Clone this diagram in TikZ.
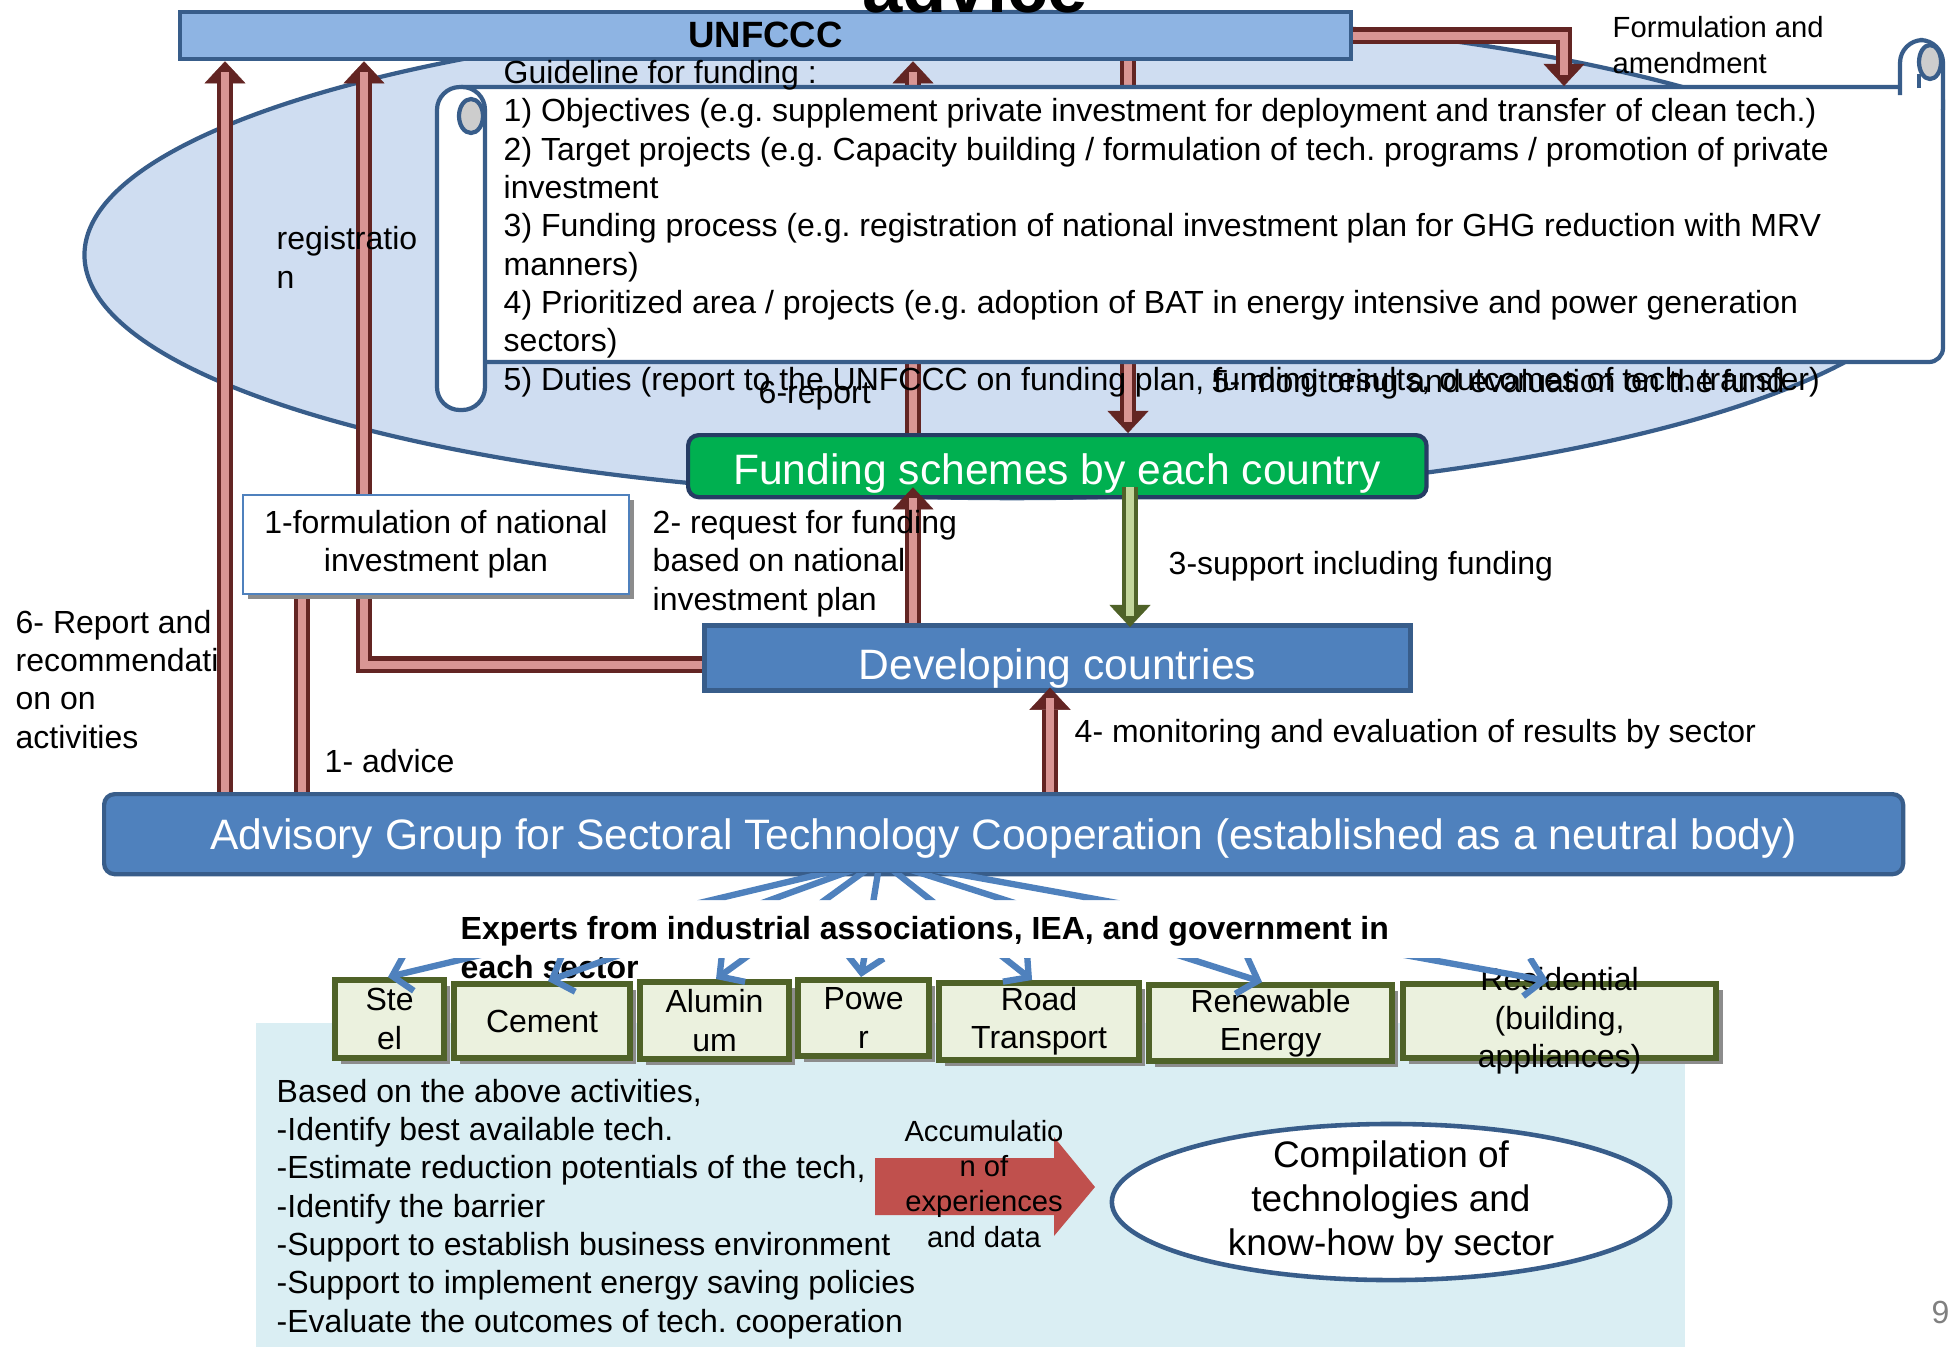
\documentclass[tikz,border=0pt]{standalone}
\usepackage{fontspec}
\setmainfont{Liberation Sans}
\usetikzlibrary{arrows.meta, positioning, shapes.geometric, shadows}
\frenchspacing

\definecolor{unfcccblue}{RGB}{142,180,227}
\definecolor{edgeblue}{RGB}{56,93,138}
\definecolor{boxblue}{RGB}{79,129,189}
\definecolor{ovalfill}{RGB}{207,221,241}
\definecolor{fundgreen}{RGB}{0,176,80}
\definecolor{fundedge}{RGB}{38,60,100}
\definecolor{arrowdark}{RGB}{99,37,35}
\definecolor{arrowpink}{RGB}{217,150,148}
\definecolor{olivedark}{RGB}{79,98,40}
\definecolor{olivelight}{RGB}{195,214,155}
\definecolor{sectorfill}{RGB}{235,241,222}
\definecolor{lowerbg}{RGB}{218,238,243}
\definecolor{blockred}{RGB}{192,80,77}
\definecolor{curlgray}{RGB}{205,205,205}

\tikzset{txt/.style={font=\fontsize{9.1}{10.9}\selectfont, inner sep=0pt, align=left}}
\tikzset{smalltxt/.style={font=\fontsize{8.3}{10}\selectfont, inner sep=0pt, align=center}}
\tikzset{bigtxt/.style={font=\fontsize{12.1}{14.5}\selectfont, text=white, text depth=0pt}}
\tikzset{bluebox/.style={draw=edgeblue, line width=1.2pt, fill=boxblue, inner sep=0pt, anchor=north west}}
\tikzset{sector/.style={
            draw=olivedark, line width=1.7pt, fill=sectorfill, anchor=north west, inner sep=0pt,
            drop shadow={shadow xshift=1.8pt, shadow yshift=-1.8pt, fill=black!45, opacity=1}
        }}
\tikzset{duct/.style 2 args={
            draw=#1, line width=4.8pt,
            -{Triangle[width=11.7pt, length=6.3pt, line width=0.1pt]},
            postaction={draw=#2, line width=2.3pt, -, shorten >=3pt}
        }}
\tikzset{redar/.style={duct={arrowdark}{arrowpink}}}
\tikzset{greenar/.style={duct={olivedark}{olivelight}}}
\tikzset{fanar/.style={draw=boxblue, line width=1.8pt, -{Straight Barb[length=5pt, width=11pt]}}}

\begin{document}
\begin{tikzpicture}[x=0.01cm, y=-0.01cm]
    \useasboundingbox (0,0) rectangle (1948,1347);

    % lower panel
    \fill[lowerbg] (256,1023) rectangle (1685,1347);

    % oval behind the guideline
    \node(guideoval)[ellipse, draw=edgeblue, line width=1.2pt, fill=ovalfill, inner sep=0pt,
        minimum width=18.54cm, minimum height=4.86cm] at (1012,255) {};

    % main boxes
    \node(unfccc)[bluebox, fill=unfcccblue, minimum width=11.70cm, minimum height=0.47cm,
        font=\fontsize{10.4}{12.5}\selectfont\bfseries, text height=6.5pt, text depth=0pt] at (178,10) {UNFCCC};
    \node(fund)[bluebox, draw=fundedge, fill=fundgreen, rounded corners=3pt, minimum width=7.38cm,
        minimum height=0.62cm, bigtxt, text height=10.2pt] at (686,433) {Funding schemes by each country};
    \node(devel)[bluebox, line width=1.3pt, minimum width=7.06cm, minimum height=0.65cm,
        bigtxt, text height=12.2pt] at (702,623) {Developing countries};
    \node(advisory)[bluebox, rounded corners=3pt, minimum width=17.98cm, minimum height=0.80cm,
        bigtxt, text height=8.5pt] at (102,792) {Advisory Group for Sectoral Technology Cooperation (established as a neutral body)};

    % columns of the arrows
    \coordinate (colA) at (225,0);
    \coordinate (colB) at (364,0);
    \coordinate (colC) at (302,0);
    \coordinate (colR) at (913,0);
    \coordinate (colM) at (1128,0);
    \coordinate (colG) at (1130,0);
    \coordinate (colS) at (1050,0);

    % arrows behind the scroll
    \draw[redar] (fund.north -| colR) -- (unfccc.south -| colR);
    \draw[redar] (unfccc.south -| colM) -- (fund.north -| colM);

    % scroll
    \draw[edgeblue, line width=1.2pt, fill=white, rounded corners=4pt] (461,87) -- (1943,87) -- (1943,362) -- (485,362);
    \draw[edgeblue, line width=1.2pt, fill=white, rounded corners=6.5pt] (437,87) rectangle (485,410);
    \draw[edgeblue, line width=1.2pt, fill=curlgray] (471,116) ellipse [x radius=12, y radius=17];
    \draw[edgeblue, line width=1.2pt, fill=white, rounded corners=6.5pt] (1900,95) -- (1900,40) -- (1943,40) -- (1943,110);
    \draw[edgeblue, line width=1.2pt, fill=curlgray] (1930,62) ellipse [x radius=11, y radius=17];
    \draw[edgeblue, line width=1.2pt] (1919,88) -- (1919,74);

    % base of a text block = its last line
    \node(guide)[txt, anchor=base west] at (503,390) {Guideline for funding :\\
        1) Objectives (e.g. supplement private investment for deployment and transfer of clean tech.)\\
        2) Target projects (e.g. Capacity building / formulation of tech. programs / promotion of private\\
        investment\\
        3) Funding process (e.g. registration of national investment plan for GHG reduction with MRV\\
        manners)\\
        4) Prioritized area / projects (e.g. adoption of BAT in energy intensive and power generation\\
        sectors)\\
        5) Duties (report to the UNFCCC on funding plan, funding results, outcomes of tech. transfer)};

    % left side
    \node(reportlbl)[txt, anchor=base west] at (15,748) {6- Report and\\recommendati\\on on\\activities};
    \draw[redar] (advisory.north -| colA) -- (unfccc.south -| colA);
    \draw[redar] ([yshift=-0.07cm]devel.west) -| (unfccc.south -| colB);
    \coordinate (formc) at (302,560);
    \draw[redar] (advisory.north -| colC) -- (formc);

    \node(formbox)[draw=boxblue, line width=0.5pt, fill=white, anchor=north west, minimum width=3.86cm,
        minimum height=0.99cm, txt, align=center,
        drop shadow={shadow xshift=1.4pt, shadow yshift=-1.4pt, fill=black!45, opacity=1}]
        at (242,494) {1-formulation of national\\investment plan};

    % arrows between the boxes
    \draw[redar] (devel.north -| colR) -- ([yshift=0.12cm]fund.south -| colR);
    \draw[greenar] ([yshift=0.12cm]fund.south -| colG) -- ([yshift=-0.04cm]devel.north -| colG);
    \draw[redar] (advisory.north -| colS) -- ([yshift=0.05cm]devel.south -| colS);
    \coordinate (scrolltop) at (1564,86);
    \draw[redar] (unfccc.east) -| (scrolltop);

    % labels
    \node(amendlbl)[smalltxt, align=left, anchor=base west] at (1612,73) {Formulation and\\amendment};
    \node(reglbl)[txt, anchor=base west] at (276,288) {registratio\\n};
    \node(rep6lbl)[txt, anchor=base west] at (758,403) {6-report};
    \node(mon5lbl)[txt, anchor=base west] at (1211,392) {5- monitoring and evaluation on the fund};
    \node(requestlbl)[txt, anchor=base west] at (652,610) {2- request for funding\\based on national\\investment plan};
    \node(supportlbl)[txt, anchor=base west] at (1168,574) {3-support including funding};
    \node(mon4lbl)[txt, anchor=base west] at (1074,742) {4- monitoring and evaluation of results by sector};
    \node(advicelbl)[txt, anchor=base west] at (324,772) {1- advice};

    % sectors
    \node(steel)[sector, minimum width=1.09cm, minimum height=0.78cm, label={[txt, align=center]center:Ste\\el}] at (332,977) {};
    \node(cement)[sector, minimum width=1.76cm, minimum height=0.74cm, label={[txt]center:Cement}] at (451,981) {};
    \node(alum)[sector, minimum width=1.49cm, minimum height=0.77cm, label={[txt, align=center]center:Alumin\\um}] at (637,979) {};
    \node(power)[sector, minimum width=1.31cm, minimum height=0.76cm, label={[txt, align=center]center:Powe\\r}] at (795,977) {};
    \node(road)[sector, minimum width=2.00cm, minimum height=0.77cm, label={[txt, align=center]center:Road\\Transport}] at (936,980) {};
    \node(renew)[sector, minimum width=2.43cm, minimum height=0.76cm, label={[txt, align=center]center:Renewable\\Energy}] at (1146,982) {};
    \node(resid)[sector, minimum width=3.13cm, minimum height=0.74cm, label={[txt, align=center]center:Residential\\(building,\\appliances)}] at (1400,981) {};

    \node(experts)[txt, font=\fontsize{9.1}{10.9}\selectfont\bfseries, anchor=base west] at (460,978)
        {Experts from industrial associations, IEA, and government in\\each sector};

    % fan of experts
    \coordinate (fan) at (880,860);
    \begin{scope}
        \clip (0,873) rectangle (1948,900) (0,958) rectangle (1948,1347);
        \foreach \sec/\dx in {steel/0.56, cement/0.97, alum/0.79, power/0.66, road/0.96, renew/1.16, resid/1.48}
            \draw[fanar] (fan) -- ([xshift=\dx cm]\sec.north west);
    \end{scope}

    % tasks
    \node(tasks)[txt, anchor=base west] at (276,1332) {Based on the above activities,\\
        -Identify best available tech.\\
        -Estimate reduction potentials of the tech,\\
        -Identify the barrier\\
        -Support to establish business environment\\
        -Support to implement energy saving policies\\
        -Evaluate the outcomes of tech. cooperation};

    % accumulation arrow
    \fill[blockred] (875,1158) -- (1054,1158) -- (1054,1137) -- (1095,1187) -- (1054,1236) -- (1054,1215) -- (875,1215) -- cycle;
    \node(accum)[smalltxt, anchor=base] at (984,1247) {Accumulatio\\n of\\experiences\\and data};

    % compilation
    \node(compile)[ellipse, draw=edgeblue, line width=1.3pt, fill=white, inner sep=0pt,
        minimum width=5.58cm, minimum height=1.56cm,
        label={[font=\fontsize{10.5}{12.5}\selectfont, align=center, inner sep=0pt]center:Compilation of\\technologies and\\know-how by sector}]
        at (1391,1202) {};

    \node(pagenum)[txt, text=gray, anchor=base west] at (1931,1323) {9};

    % title cut at the top
    \begin{scope}
        \clip (0,0) rectangle (1948,1347);
        \node(advtitle)[font=\fontsize{20.6}{24}\selectfont\bfseries, inner sep=0pt, anchor=base] at (975,12) {advice};
    \end{scope}

\end{tikzpicture}
\end{document}
